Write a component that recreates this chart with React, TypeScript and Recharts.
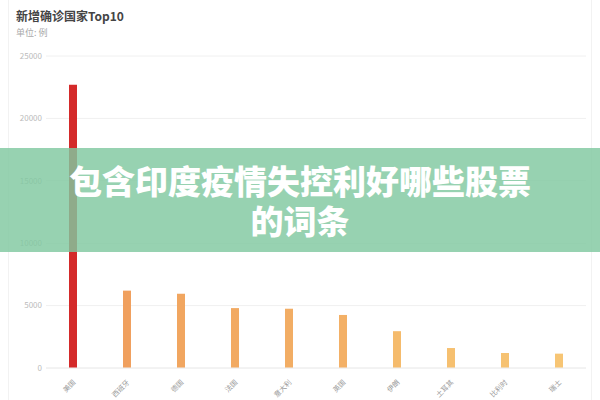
import { BarChart, Bar, XAxis, YAxis, CartesianGrid, Cell } from "recharts";

const countries = ["美国", "西班牙", "德国", "法国", "意大利", "英国", "伊朗", "土耳其", "比利时", "瑞士"];
const newCases = [22700, 6200, 5950, 4800, 4750, 4250, 2950, 1600, 1200, 1150];
const barColors = [
  "#d42a2a", "#f0a05e", "#f1a660", "#f2aa62", "#f2ad64",
  "#f3b066", "#f5bb6c", "#f6c070", "#f6c272", "#f7c574",
];
const yTicks = [0, 5000, 10000, 15000, 20000, 25000];

const data = countries.map((name, i) => ({ name, value: newCases[i] }));

const font = '"Noto Sans CJK SC", "Noto Sans", sans-serif';

const AngledTick = (props: any) => {
  const { x, y, payload } = props;
  return (
    <g transform={`translate(${x},${y + 4})`}>
      <text
        transform="rotate(-45)"
        textAnchor="end"
        dy={4}
        fontSize={7}
        fill="#999"
        fontFamily={font}
      >
        {payload.value}
      </text>
    </g>
  );
};

export default function App() {
  return (
    <div
      style={{
        position: "absolute",
        left: 0,
        top: 0,
        width: 600,
        height: 400,
        background: "#fff",
        overflow: "hidden",
        fontFamily: font,
      }}
    >
      <div style={{ position: "absolute", left: 8, top: 0, width: 582, height: 400, borderLeft: "1px solid #f2f2f2", borderRight: "1px solid #f2f2f2" }} />
      <div style={{ position: "absolute", left: 16, top: 7, fontSize: 12, fontWeight: 700, color: "#444" }}>
        新增确诊国家Top10
      </div>
      <div style={{ position: "absolute", left: 16, top: 26, fontSize: 9, color: "#aaa" }}>
        单位: 例
      </div>
      <BarChart
        width={600}
        height={400}
        data={data}
        margin={{ top: 56, right: 14, bottom: 0, left: 6 }}
        style={{ position: "absolute", left: 0, top: 0 }}
      >
        <CartesianGrid vertical={false} stroke="#f0f0f0" />
        <XAxis
          dataKey="name"
          axisLine={{ stroke: "#eee" }}
          tickLine={false}
          interval={0}
          height={32}
          tick={<AngledTick />}
        />
        <YAxis
          width={40}
          domain={[0, 25000]}
          ticks={yTicks}
          axisLine={false}
          tickLine={false}
          tickSize={4}
          tickMargin={0}
          tick={{ fontSize: 8, fill: "#bbb", fontFamily: font }}
        />
        <Bar dataKey="value" barSize={8} isAnimationActive={false}>
          {data.map((d, i) => (
            <Cell key={d.name} fill={barColors[i]} />
          ))}
        </Bar>
      </BarChart>
      <div
        style={{
          position: "absolute",
          left: 0,
          top: 148,
          width: 600,
          height: 104,
          background: "rgba(128,200,160,0.82)",
          display: "flex",
          flexDirection: "column",
          alignItems: "center",
          justifyContent: "center",
          color: "#fff",
          fontSize: 33,
          fontWeight: 900,
          lineHeight: "40px",
          textAlign: "center",
        }}
      >
        <div>包含印度疫情失控利好哪些股票</div>
        <div>的词条</div>
      </div>
    </div>
  );
}
